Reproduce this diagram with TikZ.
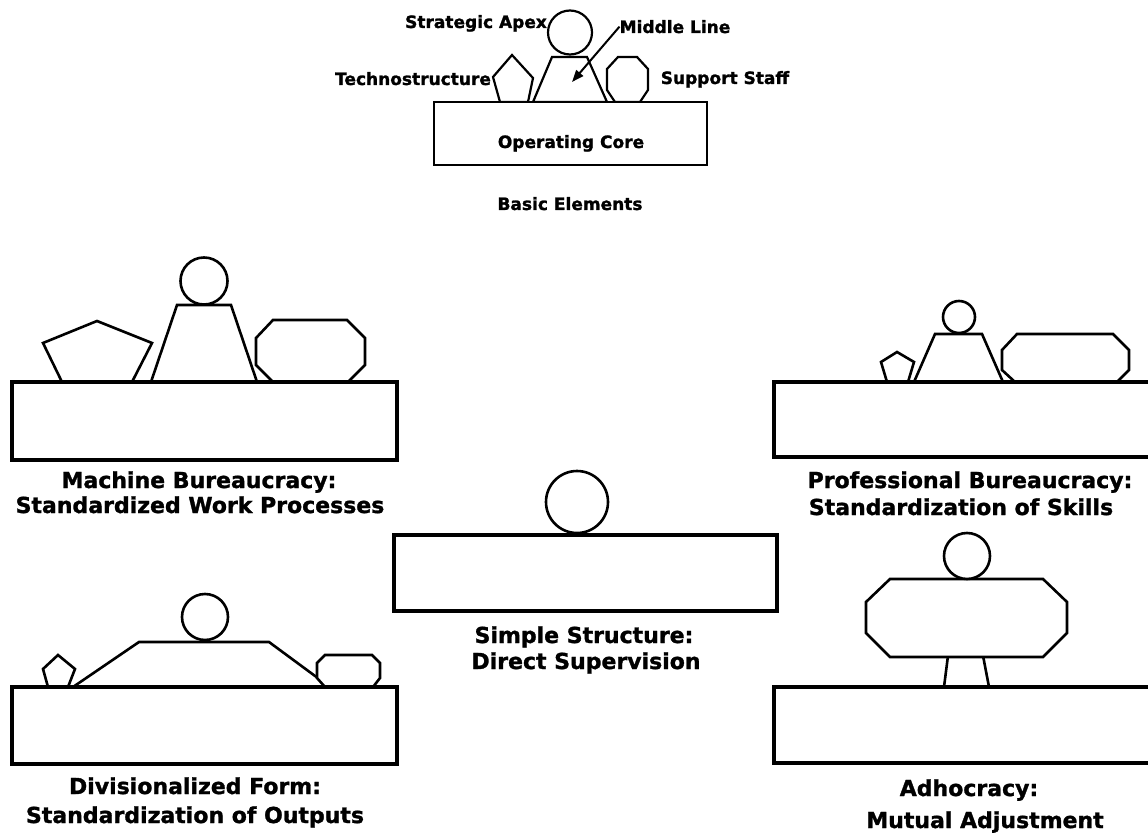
\documentclass[tikz,border=0pt]{standalone}
\usepackage{fontspec}
\setmainfont{DejaVu Sans}[BoldFeatures={FakeBold=1.3}]
\usetikzlibrary{arrows.meta}
\tikzset{
  core/.style={draw=black, line width=3.3pt, fill=white},
  part/.style={draw=black, line width=2.6pt, fill=white, line join=miter},
  toppart/.style={draw=black, line width=2.2pt, fill=white, line join=miter},
  smalllbl/.style={inner sep=0pt, anchor=base, font=\bfseries\fontsize{17}{20}\selectfont},
  biglbl/.style={inner sep=0pt, anchor=base, font=\bfseries\fontsize{22}{26}\selectfont},
  pointer/.style={line width=2pt, -{Triangle[length=12pt,width=9pt]}}
}
\begin{document}
\begin{tikzpicture}[x=1pt,y=-1pt]
\useasboundingbox (0,0) rectangle (1148,834);
\fill[white] (0,0) rectangle (1148,834);

% ---------- Basic Elements ----------
\draw[toppart] (512,55) -- (533,78) -- (528,102) -- (500,102) -- (493,77) -- cycle;
\draw[toppart] (552,57) -- (587,57) -- (607,102) -- (533,102) -- cycle;
\draw[toppart] (618,57) -- (637,57) -- (648,69) -- (648,90) -- (640,102) -- (615,102) -- (607,90) -- (607,69) -- cycle;
\draw[toppart] (570,32.5) circle (22);
\draw[core, line width=2.8pt] (434,102) rectangle (707,165);
\node[smalllbl] (oc) at (571,148) {Operating Core};
\node[smalllbl] (sa) at (476,28) {Strategic Apex};
\node[smalllbl] (ml) at (675,33) {Middle Line};
\node[smalllbl] (ts) at (413,85) {Technostructure};
\node[smalllbl] (ss) at (725,84) {Support Staff};
\node[smalllbl] (be) at (570,210) {Basic Elements};
\coordinate (mlp) at (572,82);
\draw[pointer] (ml.west) -- (mlp);

% ---------- Machine Bureaucracy ----------
\draw[part] (97,321) -- (152,343) -- (132,382) -- (62,382) -- (43,343) -- cycle;
\draw[part] (177,305) -- (231,305) -- (257,382) -- (151,382) -- cycle;
\draw[part] (273,320) -- (347,320) -- (365,338) -- (365,365) -- (348,382) -- (273,382) -- (256,365) -- (256,338) -- cycle;
\draw[part] (204,281) circle (23.5);
\draw[core] (12,382) rectangle (397,460);
\node[biglbl] (mb1) at (199,488) {Machine Bureaucracy:};
\node[biglbl] (mb2) at (200,513) {Standardized Work Processes};

% ---------- Professional Bureaucracy ----------
\draw[part] (897,352) -- (914,362) -- (908,382) -- (887,382) -- (881,362) -- cycle;
\draw[part] (935,334) -- (982,334) -- (1003,382) -- (914,382) -- cycle;
\draw[part] (1017,334) -- (1113,334) -- (1129,350) -- (1129,370) -- (1117,382) -- (1015,382) -- (1002,370) -- (1002,350) -- cycle;
\draw[part] (959,317) circle (16);
\draw[core] (774,382) rectangle (1170,457);
\node[biglbl] (pb1) at (970,488) {Professional Bureaucracy:};
\node[biglbl] (pb2) at (961,515) {Standardization of Skills};

% ---------- Simple Structure ----------
\draw[part] (577,502) circle (31);
\draw[core] (394,535) rectangle (777,611);
\node[biglbl] (ss1) at (584,643) {Simple Structure:};
\node[biglbl] (ss2) at (586,669) {Direct Supervision};

% ---------- Divisionalized Form ----------
\draw[part] (58,655) -- (75,669) -- (68,687) -- (48,687) -- (43,669) -- cycle;
\draw[part] (139,642) -- (269,642) -- (330,687) -- (73,687) -- cycle;
\draw[part] (325,655) -- (372,655) -- (380,663) -- (380,678) -- (373,687) -- (325,687) -- (317,678) -- (317,663) -- cycle;
\draw[part] (205,617) circle (23);
\draw[core] (12,687) rectangle (397,764);
\node[biglbl] (df1) at (195,794) {Divisionalized Form:};
\node[biglbl] (df2) at (195,823) {Standardization of Outputs};

% ---------- Adhocracy ----------
\draw[part] (950,640) -- (980,640) -- (989,687) -- (944,687) -- cycle;
\draw[part] (890,579) -- (1043,579) -- (1067,602) -- (1067,633) -- (1043,657) -- (890,657) -- (866,633) -- (866,602) -- cycle;
\draw[part] (967,556) circle (23);
\draw[core] (774,687) rectangle (1170,763);
\node[biglbl] (ad1) at (969,796) {Adhocracy:};
\node[biglbl] (ad2) at (985,828) {Mutual Adjustment};
\end{tikzpicture}
\end{document}
